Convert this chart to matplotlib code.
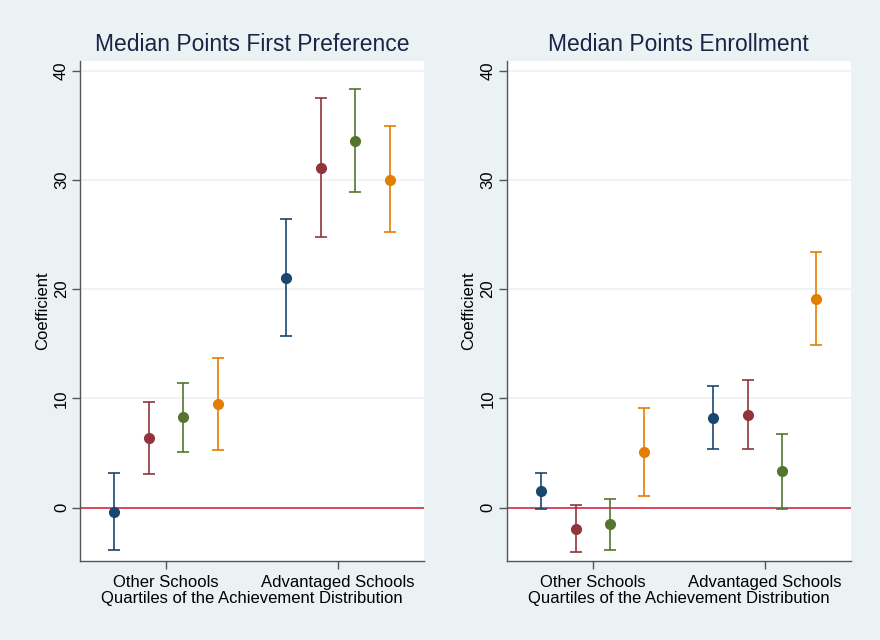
import numpy as np
import matplotlib
matplotlib.use("Agg")
import matplotlib.pyplot as plt

plt.rcParams['font.family'] = ['Liberation Sans', 'DejaVu Sans']

groups = ["Other Schools", "Advantaged Schools"]
colors = ["#1a476f", "#90353b", "#55752f", "#e37e00"]

# coefficients per quartile (rows: quartile 1-4, cols: group)
pref_coef = [[-0.4, 21.0], [6.4, 31.1], [8.3, 33.6], [9.5, 30.0]]
pref_lo = [[-3.9, 15.7], [3.1, 24.8], [5.1, 28.9], [5.3, 25.2]]
pref_hi = [[3.2, 26.4], [9.7, 37.5], [11.4, 38.3], [13.7, 34.9]]

enr_coef = [[1.5, 8.2], [-2.0, 8.5], [-1.5, 3.3], [5.1, 19.1]]
enr_lo = [[-0.1, 5.4], [-4.1, 5.4], [-3.9, -0.1], [1.1, 14.9]]
enr_hi = [[3.2, 11.1], [0.2, 11.7], [0.8, 6.7], [9.1, 23.4]]

panels = [
    ("Median Points First Preference", pref_coef, pref_lo, pref_hi),
    ("Median Points Enrollment", enr_coef, enr_lo, enr_hi),
]

bg = "#eaf2f3"
fig = plt.figure(figsize=(8.8, 6.4), dpi=100, facecolor=bg)
axes_pos = [[0.0909, 0.1234, 0.391, 0.7813], [0.5758, 0.1234, 0.391, 0.7813]]

group_x = np.array([0, 5])
offsets = [-1.5, -0.5, 0.5, 1.5]

for pos, (title, coef, lo, hi) in zip(axes_pos, panels):
    ax = fig.add_axes(pos)
    ax.set_facecolor("white")
    for q in range(4):
        c = np.array(coef[q])
        err = [c - np.array(lo[q]), np.array(hi[q]) - c]
        ax.errorbar(group_x + offsets[q], c, yerr=err, fmt='o', color=colors[q],
                    ecolor=colors[q], markersize=7, elinewidth=1.2, capsize=4,
                    capthick=1.2, zorder=3)
    ax.axhline(0, color="#d42a45", linewidth=1.2, zorder=2)
    ax.set_xlim(-2.5, 7.5)
    ax.set_ylim(-4.9, 40.9)
    ax.set_yticks([0, 10, 20, 30, 40])
    ax.set_yticklabels(["0", "10", "20", "30", "40"], rotation=90, va='center')
    ax.set_xticks(group_x)
    ax.set_xticklabels(groups)
    ax.grid(axis='y', color=bg, linewidth=1.2, zorder=0)
    ax.set_axisbelow(True)
    for s in ["top", "right"]:
        ax.spines[s].set_visible(False)
    for s in ["left", "bottom"]:
        ax.spines[s].set_color("#555555")
        ax.spines[s].set_linewidth(1.0)
    ax.tick_params(axis='both', colors="#555555", labelcolor="black",
                   labelsize=12, length=6, width=1.0)
    ax.tick_params(axis='x', pad=4)
    ax.tick_params(axis='y', pad=2)
    ax.set_ylabel("Coefficient", fontsize=12, labelpad=3)
    ax.set_xlabel("Quartiles of the Achievement Distribution", fontsize=12, labelpad=1)
    ax.set_title(title, fontsize=16.5, color="#1a2547", pad=7)

fig.savefig("out.png", dpi=100, facecolor=bg)
